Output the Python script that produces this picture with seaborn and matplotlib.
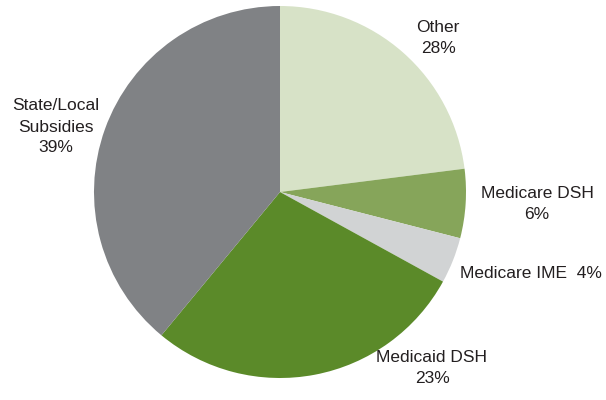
import matplotlib
matplotlib.use("Agg")
import matplotlib.pyplot as plt
import seaborn as sns

# Slice sizes as drawn in the chart (clockwise from 12 o'clock)
categories = ["Other", "Medicare DSH", "Medicare IME", "Medicaid DSH", "State/Local\nSubsidies"]
shares = [23, 6, 4, 28, 39]
# Percentages as printed on the chart labels
pct_labels = ["28%", "6%", "4%", "23%", "39%"]
colors = ["#d7e2c7", "#86a55a", "#d1d3d4", "#5b8a29", "#808285"]

sns.set_theme(style="white")
plt.rcParams["font.family"] = ["Liberation Sans Narrow", "Liberation Sans", "DejaVu Sans"]

W, H = 606, 400
fig = plt.figure(figsize=(W / 100, H / 100), dpi=100)
ax = fig.add_axes([0, 0, 1, 1])

ax.pie(shares, colors=colors, startangle=90, counterclock=False,
       center=(280, H - 192), radius=186,
       wedgeprops=dict(linewidth=0, edgecolor="none"))
ax.set_xlim(0, W)
ax.set_ylim(0, H)
ax.set_aspect("equal")
ax.axis("off")

txt = dict(fontsize=12.5, color="#231f20", linespacing=1.5)
# label placement (pixel coords, y from top)
ax.text(438, H - 38, f"{categories[0]}\n{pct_labels[0]}", ha="center", va="center", **txt)
ax.text(537, H - 204, f"{categories[1]}\n{pct_labels[1]}", ha="center", va="center", **txt)
ax.text(460, H - 273, f"{categories[2]}  {pct_labels[2]}", ha="left", va="center", **txt)
ax.text(432, H - 368, f"{categories[3]}\n{pct_labels[3]}", ha="center", va="center", **txt)
ax.text(56, H - 127, f"{categories[4]}\n{pct_labels[4]}", ha="center", va="center", **txt)

fig.savefig("out.png", dpi=100)
